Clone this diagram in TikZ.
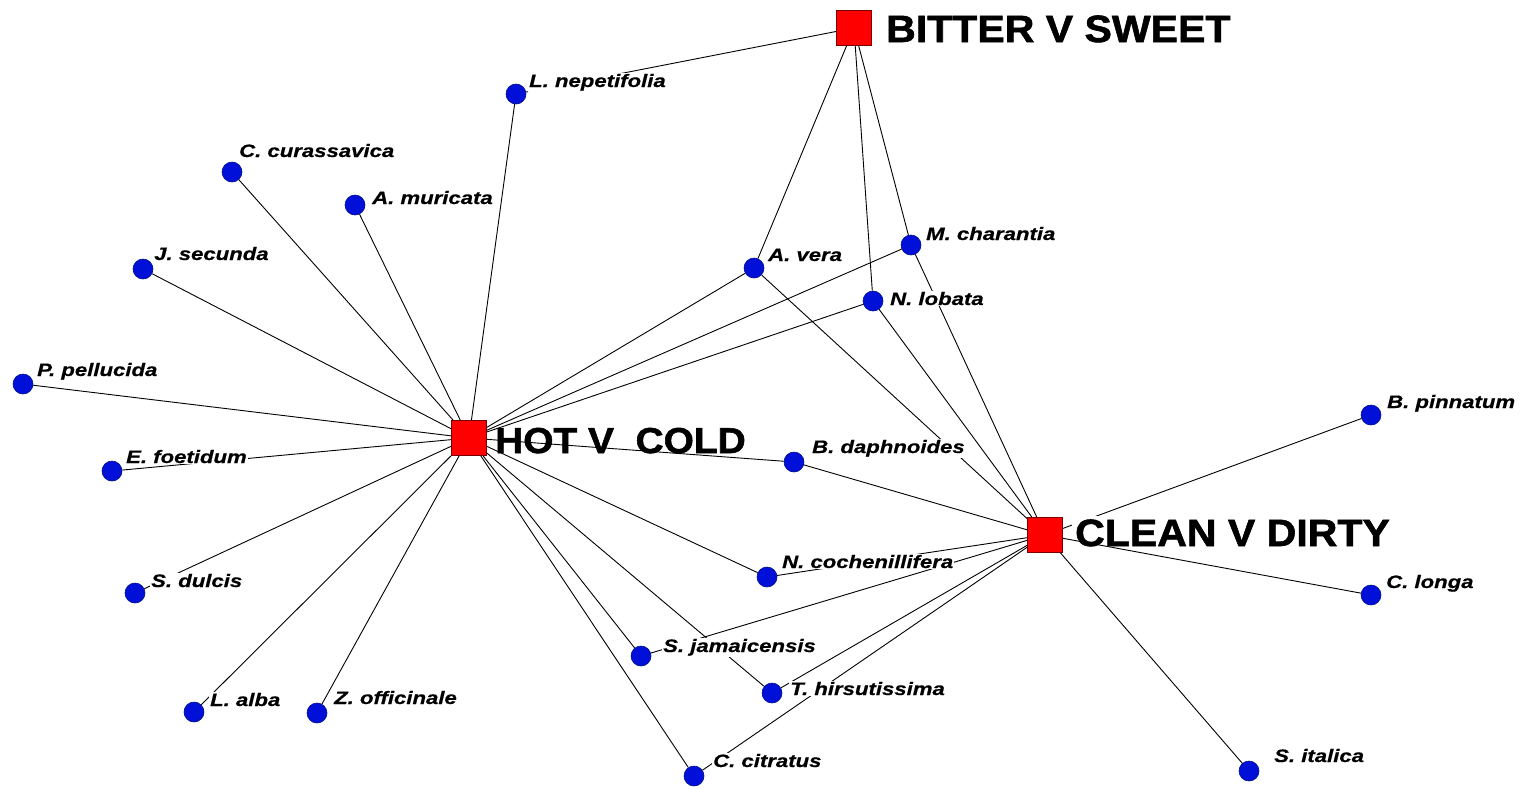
\documentclass[tikz,border=0pt]{standalone}
\usepackage{fontspec}
\usepackage{tikz}
\usetikzlibrary{positioning}
\newfontfamily\spfont[FakeStretch=1.23, FakeBold=0.6]{Liberation Sans}
\newfontfamily\catfont[FakeStretch=1.08, FakeBold=1.5]{Liberation Sans}
\definecolor{dotblue}{HTML}{0010D8}
\definecolor{dotedge}{HTML}{00108A}
\definecolor{catred}{HTML}{FF0000}
\definecolor{catedge}{HTML}{7A0000}

\begin{document}
\begin{tikzpicture}[
  x=1pt, y=-1pt,
  sp/.style={circle, fill=dotblue, draw=dotedge, line width=0.6pt,
             minimum size=20pt, inner sep=0pt},
  cat/.style={rectangle, fill=catred, draw=catedge, line width=0.8pt,
              minimum size=35pt, inner sep=0pt},
  lbl/.style={anchor=base west, inner sep=1pt, fill=white,
              font=\spfont\bfseries\itshape\fontsize{18}{20}\selectfont},
  catlbl/.style={anchor=base west, inner sep=0pt,
                 font=\catfont\bfseries\fontsize{38}{40}\selectfont},
  ln/.style={black, line width=0.9pt}
]
\useasboundingbox (0,0) rectangle (1524,788);

% --- categories ---
\node[cat] (bitter) at (854,28)  {};
\node[cat] (hot)    at (469,438) {};
\node[cat] (clean)  at (1045,535) {};

% --- species ---
\node[sp] (lnep) at (516,94)   {};
\node[sp] (ccur) at (232,172)  {};
\node[sp] (amur) at (355,205)  {};
\node[sp] (jsec) at (143,269)  {};
\node[sp] (ppel) at (23,384)   {};
\node[sp] (efoe) at (112,471)  {};
\node[sp] (sdul) at (135,593)  {};
\node[sp] (lalb) at (194,712)  {};
\node[sp] (zoff) at (317,713)  {};
\node[sp] (ccit) at (694,776)  {};
\node[sp] (sjam) at (641,656)  {};
\node[sp] (thir) at (772,693)  {};
\node[sp] (ncoc) at (767,577)  {};
\node[sp] (bdap) at (794,462)  {};
\node[sp] (aver) at (754,268)  {};
\node[sp] (mcha) at (911,245)  {};
\node[sp] (nlob) at (873,301)  {};
\node[sp] (bpin) at (1371,415) {};
\node[sp] (clon) at (1371,595) {};
\node[sp] (sita) at (1249,771) {};

% --- links ---
\foreach \n in {lnep, ccur, amur, jsec, ppel, efoe, sdul, lalb, zoff,
                ccit, sjam, thir, ncoc, bdap, aver, mcha, nlob}
  \draw[ln] (hot) -- (\n);
\foreach \n in {lnep, aver, nlob, mcha}
  \draw[ln] (bitter) -- (\n);
\foreach \n in {aver, nlob, mcha, bdap, ncoc, sjam, thir, ccit, bpin, sita}
  \draw[ln] (clean) -- (\n);

% --- species names ---
\node[lbl] (lnepL) at (528,87)  {L. nepetifolia};
\node[lbl] (ccurL) at (238,157) {C. curassavica};
\node[lbl] (amurL) at (371,204) {A. muricata};
\node[lbl] (jsecL) at (153,260) {J. secunda};
\node[lbl] (ppelL) at (36,376)  {P. pellucida};
\node[lbl] (efoeL) at (125,463) {E. foetidum};
\node[lbl] (sdulL) at (150,587) {S. dulcis};
\node[lbl] (lalbL) at (209,706) {L. alba};
\node[lbl] (zoffL) at (333,704) {Z. officinale};
\node[lbl] (ccitL) at (712,767) {C. citratus};
\node[lbl] (sjamL) at (662,652) {S. jamaicensis};
\node[lbl] (thirL) at (789,695) {T. hirsutissima};
\node[lbl] (ncocL) at (781,568) {N. cochenillifera};
\node[lbl] (bdapL) at (811,453) {B. daphnoides};
\node[lbl] (averL) at (767,261) {A. vera};
\node[lbl] (mchaL) at (925,240) {M. charantia};
\node[lbl] (nlobL) at (889,305) {N. lobata};
\node[lbl] (bpinL) at (1386,408) {B. pinnatum};
\node[lbl] (clonL) at (1385,588) {C. longa};
\node[lbl] (sitaL) at (1273,762) {S. italica};

% --- category names ---
\node[catlbl] (bitterL) at (886,42) {BITTER V SWEET};
\node[catlbl, font=\catfont\bfseries\fontsize{36}{38}\selectfont]
  (hotL) at (495,453) {HOT V\ \ COLD};
\node[catlbl, fill=white, inner sep=3pt] (cleanL) at (1072,546) {CLEAN V DIRTY};
\draw[ln] (clean) -- (clon);
\end{tikzpicture}
\end{document}
